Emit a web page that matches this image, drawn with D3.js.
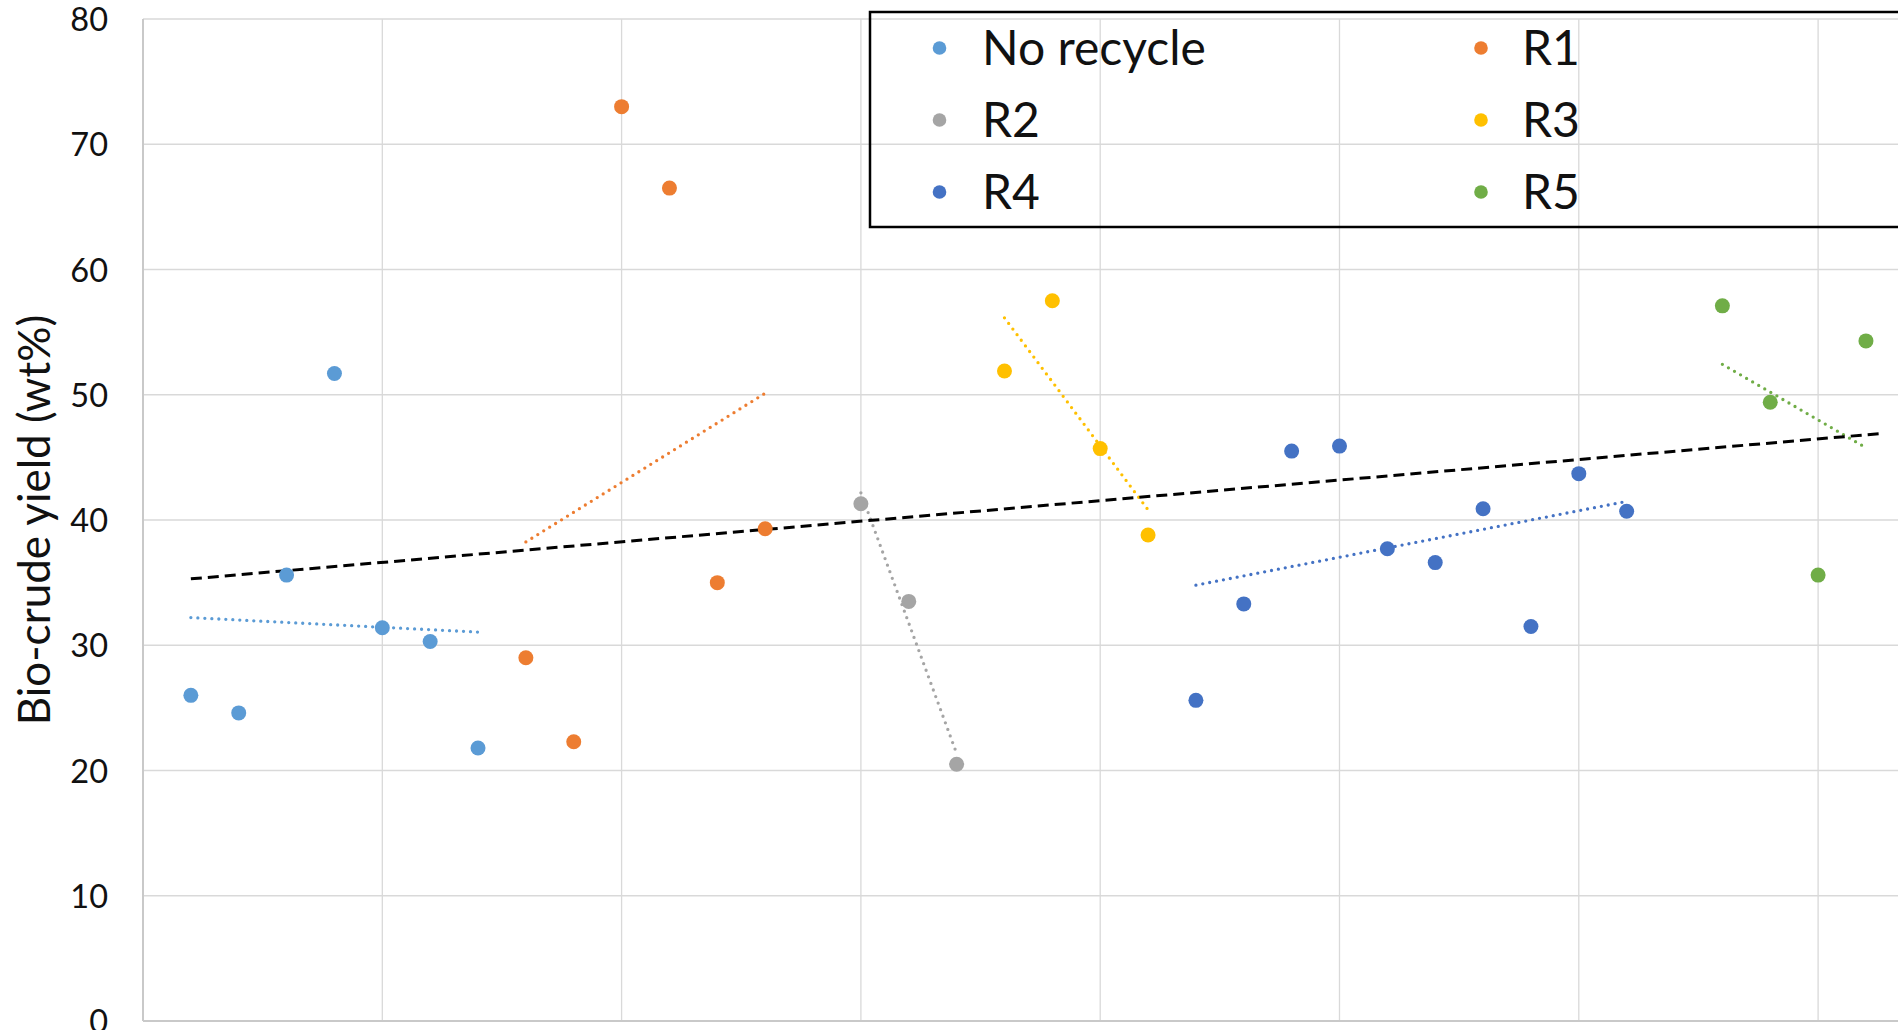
<!DOCTYPE html>
<html>
<head>
<meta charset="utf-8">
<script src="https://cdn.jsdelivr.net/npm/d3@7"></script>
<style>
  html, body { margin: 0; padding: 0; background: #fff; overflow: hidden; }
  svg { display: block; font-family: Lato, "Open Sans", sans-serif; }
</style>
</head>
<body>
<svg id="chart" width="1898" height="1030"></svg>
<script>
// ---------------- DATA ----------------
const seriesNames  = ["No recycle", "R1", "R2", "R3", "R4", "R5"];
const seriesColors = ["#5B9BD5", "#ED7D31", "#A5A5A5", "#FFC000", "#4472C4", "#70AD47"];

const xNoRecycle = [1, 2, 3, 4, 5, 6, 7];
const yNoRecycle = [26.0, 24.6, 35.6, 51.7, 31.4, 30.3, 21.8];
const xR1 = [8, 9, 10, 11, 12, 13];
const yR1 = [29.0, 22.3, 73.0, 66.5, 35.0, 39.3];
const xR2 = [15, 16, 17];
const yR2 = [41.3, 33.5, 20.5];
const xR3 = [18, 19, 20, 21];
const yR3 = [51.9, 57.5, 45.7, 38.8];
const xR4 = [22, 23, 24, 25, 26, 27, 28, 29, 30, 31];
const yR4 = [25.6, 33.3, 45.5, 45.9, 37.7, 36.6, 40.9, 31.5, 43.7, 40.7];
const xR5 = [33, 34, 35, 36];
const yR5 = [57.1, 49.4, 35.6, 54.3];

// overall (all runs) linear trend
const overallTrendX = [1, 36.3];
const overallTrendY = [35.3, 46.9];

const yTicks = [0, 10, 20, 30, 40, 50, 60, 70, 80];
const xGridTicks = [0, 5, 10, 15, 20, 25, 30, 35, 40];
const yAxisTitle = "Bio-crude yield (wt%)";

// legend layout order (two columns)
const legendOrder = ["No recycle", "R1", "R2", "R3", "R4", "R5"];

// ---------------- CHART ----------------
(function () {
const allX = [xNoRecycle, xR1, xR2, xR3, xR4, xR5];
const allY = [yNoRecycle, yR1, yR2, yR3, yR4, yR5];
const series = seriesNames.map((name, i) => ({
  name, color: seriesColors[i],
  points: allX[i].map((xv, j) => ({ x: xv, y: allY[i][j] }))
}));

const svg = d3.select("#chart");
const W = 1898;
const padL = 143, padT = 19, padB = 1021;
const xUnit = 47.86;

const x = d3.scaleLinear().domain([0, 40]).range([padL, padL + 40 * xUnit]);
const y = d3.scaleLinear().domain([0, 80]).range([padB, padT]);

// gridlines
const grid = svg.append("g");
grid.selectAll("line.h").data(yTicks).join("line").attr("class", "h")
  .attr("x1", padL).attr("x2", W)
  .attr("y1", d => y(d)).attr("y2", d => y(d))
  .attr("stroke", "#d9d9d9").attr("stroke-width", 1.3);
grid.selectAll("line.v").data(xGridTicks).join("line").attr("class", "v")
  .attr("x1", d => x(d)).attr("x2", d => x(d))
  .attr("y1", padT).attr("y2", padB)
  .attr("stroke", "#d9d9d9").attr("stroke-width", 1.3);
// axis lines
svg.append("line").attr("x1", padL).attr("x2", padL).attr("y1", padT).attr("y2", padB)
  .attr("stroke", "#c9c9c9").attr("stroke-width", 2);
svg.append("line").attr("x1", padL).attr("x2", W).attr("y1", padB).attr("y2", padB)
  .attr("stroke", "#c9c9c9").attr("stroke-width", 2);

// y axis labels
const yAxis = d3.axisLeft(y).tickValues(yTicks).tickSize(0).tickPadding(0);
const gy = svg.append("g").attr("transform", `translate(${padL - 35},0)`).call(yAxis);
gy.select(".domain").remove();
gy.selectAll("text")
  .attr("font-family", "Lato, 'Open Sans', sans-serif")
  .attr("font-size", 32.5).attr("fill", "#111").attr("dy", "0.36em");

// y axis title
svg.append("text")
  .attr("transform", `translate(50,${(padT + padB) / 2}) rotate(-90)`)
  .attr("text-anchor", "middle")
  .attr("font-size", 44).attr("fill", "#111")
  .text(yAxisTitle);

// linear regression for each series
function linreg(pts) {
  const mx = d3.mean(pts, d => d.x), my = d3.mean(pts, d => d.y);
  const sxy = d3.sum(pts, d => (d.x - mx) * (d.y - my));
  const sxx = d3.sum(pts, d => (d.x - mx) ** 2);
  const b = sxy / sxx, a = my - b * mx;
  return xv => a + b * xv;
}

const line = d3.line().x(d => x(d.x)).y(d => y(d.y));

// per-series dotted trendlines
const trends = svg.append("g");
series.forEach(s => {
  const f = linreg(s.points);
  const x0 = d3.min(s.points, d => d.x), x1 = d3.max(s.points, d => d.x);
  trends.append("path")
    .attr("d", line([{ x: x0, y: f(x0) }, { x: x1, y: f(x1) }]))
    .attr("fill", "none").attr("stroke", s.color)
    .attr("stroke-width", 3.3).attr("stroke-linecap", "round")
    .attr("stroke-dasharray", "0 7");
});

// overall dashed trendline
svg.append("path")
  .attr("d", line(overallTrendX.map((xv, i) => ({ x: xv, y: overallTrendY[i] }))))
  .attr("fill", "none").attr("stroke", "#000")
  .attr("stroke-width", 3).attr("stroke-dasharray", "11 6");

// points
const pts = svg.append("g");
series.forEach(s => {
  pts.append("g").selectAll("circle").data(s.points).join("circle")
    .attr("cx", d => x(d.x)).attr("cy", d => y(d.y))
    .attr("r", 7.5).attr("fill", s.color);
});

// legend
const lg = svg.append("g");
lg.append("rect").attr("x", 870).attr("y", 12).attr("width", 1100).attr("height", 215)
  .attr("fill", "none").attr("stroke", "#000").attr("stroke-width", 2.5);
legendOrder.forEach((name, i) => {
  const s = series.find(d => d.name === name);
  const col = i % 2, row = Math.floor(i / 2);
  const mx = col === 0 ? 939.5 : 1481;
  const tx = col === 0 ? 982 : 1522;
  const base = 65 + row * 72;
  lg.append("circle").attr("cx", mx).attr("cy", base - 17).attr("r", 6.8).attr("fill", s.color);
  lg.append("text").attr("x", tx).attr("y", base)
    .attr("font-size", 48).attr("fill", "#111").text(name);
});
})();
</script>
</body>
</html>
